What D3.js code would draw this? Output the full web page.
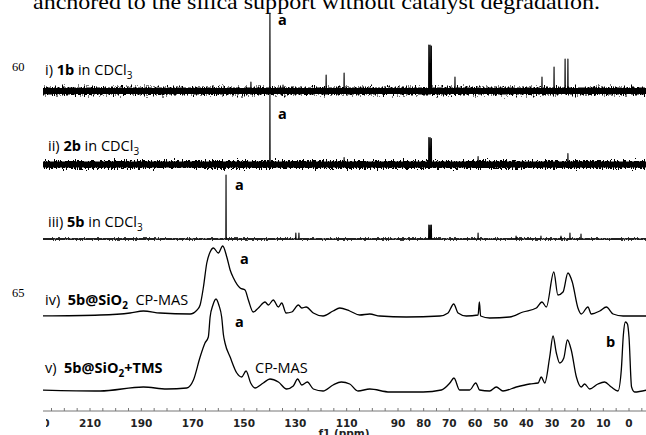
<!DOCTYPE html>
<html>
<head>
<meta charset="utf-8">
<script src="https://cdn.jsdelivr.net/npm/d3@7/dist/d3.min.js"></script>
<style>
  body { margin: 0; background: #fff; }
  svg { display: block; }
</style>
</head>
<body>
<svg id="chart" width="646" height="435"></svg>
<script>
// stick spectra, [ppm, intensity]
const peaks1b = [[147.3, 9], [139.9, 78], [134.8, 6], [118.0, 16], [111.0, 18],
  [78.0, 46], [77.5, 46], [77.0, 45], [67.8, 14], [33.9, 14], [29.2, 24], [24.9, 32], [23.8, 32]];
const peaks2b = [[139.9, 72], [111.0, 7], [78.0, 27], [77.5, 27], [77.0, 26], [58.8, 8], [23.8, 11]];
const peaks5b = [[157.0, 64], [129.8, 6], [128.6, 6], [78.0, 14], [77.5, 14], [77.0, 14],
  [58.8, 6], [44.0, 3], [34.3, 3], [26.5, 3], [23.0, 6], [18.7, 5]];

// CP-MAS spectra, [ppm, intensity]
const cpmas5b = [[230, 0], [206.1, 1], [194.4, 3], [189.2, 5], [182.7, 3], [171.0, 2], [168.3, 6],
  [167.1, 11], [165.8, 29], [164.5, 53], [163.2, 64], [161.9, 68], [160.0, 63], [158.3, 70],
  [156.7, 59], [155.4, 46], [154.1, 38], [151.5, 28], [149.6, 26], [148.3, 16], [146.4, 4],
  [144.4, 8], [141.8, 14], [140.5, 11], [138.6, 16], [136.6, 9], [135.3, 13], [133.6, 3],
  [131.4, 4], [128.8, 11], [127.5, 8], [125.8, 9], [123.0, 3], [119.2, 0], [115.3, 5],
  [112.7, 8], [108.8, 5], [104.9, 1], [101.0, 2], [97.1, 0], [86.8, -1], [73.7, 0], [70.5, 3],
  [68.3, 12], [66.6, 3], [63.4, 0], [58.8, 1], [58.3, 14], [57.8, 0], [54.3, -2], [46.5, -1],
  [41.3, 4], [36.1, 8], [33.9, 14], [32.2, 9], [29.3, 44], [27.7, 21], [25.7, 24], [23.8, 43],
  [22.1, 34], [19.9, 8], [18.6, 2], [16.0, 9], [14.7, 2], [11.4, 5], [8.8, 9], [6.2, 2],
  [2.3, 0], [-7, 0]];
const cpmasTms = [[230, 1], [206.1, 0], [189.2, 4], [180.1, 2], [172.3, 3], [169.7, 11], [167.1, 34],
  [165.2, 48], [163.9, 54], [163.2, 74], [162.1, 86], [160.9, 92], [159.8, 86], [158.7, 74],
  [158.0, 56], [157.4, 48], [155.4, 34], [152.8, 18], [150.9, 14], [149.2, 20], [147.4, 8],
  [145.7, 3], [142.5, 8], [139.9, 12], [136.6, 9], [133.4, 2], [130.8, 5], [129.1, 12],
  [127.5, 6], [125.3, 9], [123.0, 2], [119.2, 0], [115.3, 6], [112.1, 9], [108.8, 7],
  [105.6, 0], [101.0, 2], [93.2, -1], [80.2, -1], [73.1, 1], [69.8, 8], [68.2, 13], [66.0, 1],
  [62.1, 1], [59.7, 8], [58.2, 1], [54.3, 0], [51.7, 4], [49.1, 0], [43.9, 4], [38.7, 7],
  [35.4, 8], [34.2, 14], [32.8, 8], [30.9, 34], [29.6, 55], [28.3, 38], [27.0, 28], [25.4, 33],
  [24.0, 51], [22.5, 41], [20.5, 14], [18.6, 4], [17.3, 7], [15.3, 2], [12.1, 7], [9.5, 9],
  [6.9, 4], [4.3, 0], [3.0, 21], [2.2, 56], [1.4, 69], [0.6, 67], [0.0, 54], [-1.0, 4],
  [-2.2, -1], [-7, 1]];

const tickLabels = [230, 210, 190, 170, 150, 130, 110, 90, 80, 70, 60, 50, 40, 30, 20, 10, 0];
const minorTicks = d3.range(-5, 231, 5);

const svg = d3.select('#chart');
const labelFont = "'Open Sans', sans-serif";

const x = d3.scaleLinear().domain([210, 0]).range([90, 629]);

const defs = svg.append('defs');
defs.append('clipPath').attr('id', 'plotclip')
  .append('rect').attr('x', 43).attr('y', 0).attr('width', 603).attr('height', 435);
defs.append('clipPath').attr('id', 'labelclip')
  .append('rect').attr('x', 46).attr('y', 0).attr('width', 600).attr('height', 435);

// jagged look for the noisy baselines (vertical displacement only)
function noiseFilter(id, scale, fx, fy) {
  var f = defs.append('filter').attr('id', id)
    .attr('filterUnits', 'userSpaceOnUse')
    .attr('x', 0).attr('y', 0).attr('width', 646).attr('height', 435);
  f.append('feTurbulence').attr('type', 'fractalNoise')
    .attr('baseFrequency', fx + ' ' + fy).attr('numOctaves', 2).attr('seed', 4).attr('result', 'turb');
  f.append('feColorMatrix').attr('in', 'turb').attr('type', 'matrix')
    .attr('values', '0 0 0 0 0.5  0 1 0 0 0  0 0 0 0 0  0 0 0 0 1').attr('result', 'map');
  f.append('feDisplacementMap').attr('in', 'SourceGraphic').attr('in2', 'map')
    .attr('scale', scale).attr('xChannelSelector', 'R').attr('yChannelSelector', 'G');
}
noiseFilter('noiseHeavy', 10, 0.9, 0.25);
noiseFilter('noiseLight', 4, 0.9, 0.3);

// caption line cut at the top of the page
svg.append('text')
  .attr('x', 33).attr('y', 9)
  .attr('textLength', 567).attr('lengthAdjust', 'spacingAndGlyphs')
  .style('font-family', "'Liberation Serif', 'Times New Roman', serif")
  .style('font-size', '22px')
  .text('anchored to the silica support without catalyst degradation.');

// margin line numbers
[['60', 71], ['65', 297]].forEach(function (n) {
  svg.append('text').attr('x', 12).attr('y', n[1])
    .style('font-family', "'Liberation Serif', serif").style('font-size', '12.5px')
    .text(n[0]);
});

const plot = svg.append('g').attr('clip-path', 'url(#plotclip)');

function stickPoints(peaks) {
  var pts = [[232, 0]];
  peaks.slice().sort(function (a, b) { return b[0] - a[0]; }).forEach(function (p) {
    pts.push([p[0] + 0.08, 0], [p[0], p[1]], [p[0] - 0.08, 0]);
  });
  pts.push([-8, 0]);
  return pts;
}

const traces = [
  {data: peaks1b, stick: true, base: 91, core: 6, band: 7, noise: 'noiseHeavy'},
  {data: peaks2b, stick: true, base: 164.5, core: 6, band: 7, noise: 'noiseHeavy'},
  {data: peaks5b, stick: true, base: 239, core: 0, band: 1.6, noise: 'noiseLight'},
  {data: cpmas5b, stick: false, base: 316, core: 0, band: 0},
  {data: cpmasTms, stick: false, base: 391, core: 0, band: 0}
];

traces.forEach(function (t) {
  var y = d3.scaleLinear().domain([0, 100]).range([t.base, t.base - 100]);
  var line = d3.line().x(function (d) { return x(d[0]); }).y(function (d) { return y(d[1]); });
  if (t.core) {
    plot.append('path')
      .attr('d', line([[232, 0], [-8, 0]]))
      .attr('fill', 'none').attr('stroke', '#000').attr('stroke-width', t.core);
  }
  if (t.band) {
    plot.append('path')
      .attr('d', line([[232, 0], [-8, 0]]))
      .attr('fill', 'none').attr('stroke', '#000').attr('stroke-width', t.band)
      .attr('filter', 'url(#' + t.noise + ')');
  }
  if (!t.stick) line.curve(d3.curveMonotoneX);
  plot.append('path')
    .attr('d', line(t.stick ? stickPoints(t.data) : t.data))
    .attr('fill', 'none').attr('stroke', '#000')
    .attr('stroke-width', t.stick ? 1.1 : 1.3)
    .attr('stroke-linejoin', 'round');
});

// axis
const axisY = 411;
plot.append('line').attr('x1', 43).attr('x2', 646).attr('y1', axisY).attr('y2', axisY)
  .attr('stroke', '#777').attr('stroke-width', 1);
plot.selectAll('line.tick').data(minorTicks).enter().append('line')
  .attr('class', 'tick')
  .attr('x1', function (d) { return x(d); }).attr('x2', function (d) { return x(d); })
  .attr('y1', axisY).attr('y2', axisY - 3)
  .attr('stroke', '#777').attr('stroke-width', 1);
svg.append('g').attr('clip-path', 'url(#labelclip)')
  .selectAll('text.tl').data(tickLabels).enter().append('text')
  .attr('class', 'tl')
  .attr('x', function (d) { return x(d); }).attr('y', 427)
  .attr('text-anchor', 'middle')
  .style('font-family', "'DejaVu Sans', Verdana, sans-serif")
  .style('font-weight', 'bold').style('font-size', '10.5px')
  .attr('fill', '#222')
  .text(function (d) { return d; });
svg.append('text').attr('x', 344).attr('y', 437).attr('text-anchor', 'middle')
  .style('font-family', "'DejaVu Sans', Verdana, sans-serif")
  .style('font-weight', 'bold').style('font-size', '10.5px').attr('fill', '#222')
  .text('f1 (ppm)');

// trace labels
function richLabel(xp, yp, parts) {
  var t = svg.append('text').attr('x', xp).attr('y', yp)
    .style('font-family', labelFont).style('font-size', '14.5px');
  parts.forEach(function (p) {
    var s = t.append('tspan').text(p[0]);
    if (p[1].indexOf('b') >= 0) s.style('font-weight', 'bold');
    if (p[1].indexOf('s') >= 0) s.attr('dy', 4).style('font-size', '10px');
    if (p[1].indexOf('u') >= 0) s.attr('dy', -4);
  });
}
richLabel(45, 75, [['i) ', ''], ['1b', 'b'], [' in CDCl', ''], ['3', 's']]);
richLabel(48, 151, [['ii) ', ''], ['2b', 'b'], [' in CDCl', ''], ['3', 's']]);
richLabel(48, 227, [['iii) ', ''], ['5b', 'b'], [' in CDCl', ''], ['3', 's']]);
richLabel(45, 305, [['iv)\u00a0\u00a0', ''], ['5b@SiO', 'b'], ['2', 'bs'], ['\u00a0\u00a0CP-MAS', 'u']]);
richLabel(45, 373, [['v)\u00a0\u00a0', ''], ['5b@SiO', 'b'], ['2', 'bs'], ['+TMS', 'bu']]);
richLabel(255, 373, [['CP-MAS', '']]);

// peak markers
[['a', 278, 25], ['a', 278, 119], ['a', 235, 190], ['a', 240, 264], ['a', 235, 327], ['b', 606, 347]]
  .forEach(function (m) {
    svg.append('text').attr('x', m[1]).attr('y', m[2])
      .style('font-family', labelFont).style('font-weight', 'bold').style('font-size', '14.5px')
      .text(m[0]);
  });
</script>
</body>
</html>
